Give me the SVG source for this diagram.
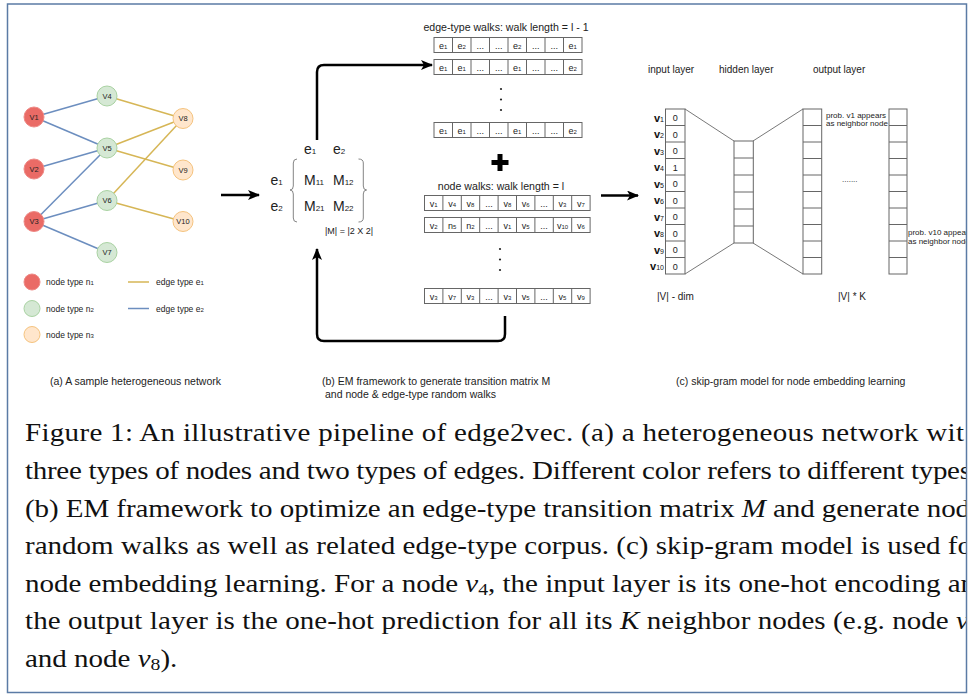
<svg xmlns="http://www.w3.org/2000/svg" width="970" height="696" viewBox="0 0 970 696">
<style>
text{font-family:"Liberation Sans",Arial,sans-serif;fill:#222}
.nl{font-size:7.5px;text-anchor:middle}
.lg{font-size:8.5px}
.cell{fill:#fff;stroke:#666;stroke-width:1}
.div{stroke:#666;stroke-width:1}
.ct{font-size:9px;text-anchor:middle}
.ttl{font-size:10px}
.wt{font-size:10.6px;text-anchor:middle}
.cap{font-size:10.5px}
.fig{font-family:"Liberation Serif","Times New Roman",serif;font-size:25px;fill:#111}
.mx{font-size:14px}
.e1{stroke:#d6b656;stroke-width:1.5;fill:none}
.e2{stroke:#6c8ebf;stroke-width:1.5;fill:none}
.n1{fill:#ea6b66;stroke:#ee8a86;stroke-width:1}
.n2{fill:#d5e8d4;stroke:#a9d2a2;stroke-width:1}
.n3{fill:#ffe6cc;stroke:#f5c37e;stroke-width:1}
.bar{stroke:#000;stroke-width:2.5;fill:none}
.thin{stroke:#555;stroke-width:0.8;fill:none}
.vl{font-size:11px;font-weight:bold;text-anchor:end;fill:#111}
</style>
<defs>
<marker id="ah" markerWidth="12" markerHeight="10" refX="11" refY="5" orient="auto" markerUnits="userSpaceOnUse">
<path d="M0,0 L12,5 L0,10 L3,5 z" fill="#000"/>
</marker>
<clipPath id="clip"><rect x="0" y="0" width="966.5" height="696"/></clipPath>
</defs>
<rect x="0" y="0" width="970" height="696" fill="#fff"/>
<g clip-path="url(#clip)">
<g id="connectors">
<line class="e2" x1="34" y1="117" x2="107" y2="96"/>
<line class="e2" x1="34" y1="117" x2="107" y2="148"/>
<line class="e2" x1="34" y1="169" x2="107" y2="148"/>
<line class="e2" x1="34" y1="221.5" x2="107" y2="148"/>
<line class="e2" x1="34" y1="221.5" x2="107" y2="200.5"/>
<line class="e2" x1="34" y1="221.5" x2="107" y2="252.5"/>
<line class="e1" x1="107" y1="96" x2="183" y2="118.5"/>
<line class="e1" x1="107" y1="148" x2="183" y2="118.5"/>
<line class="e1" x1="107" y1="148" x2="183" y2="170"/>
<line class="e1" x1="107" y1="200.5" x2="183" y2="118.5"/>
<line class="e1" x1="107" y1="200.5" x2="183" y2="221.5"/>
<line class="bar" x1="221" y1="195" x2="259" y2="195" marker-end="url(#ah)"/>
<path class="bar" d="M317 140 L317 72 Q317 65 324 65 L432 65" marker-end="url(#ah)"/>
<path class="bar" d="M505 316 L505 334 Q505 341 498 341 L324 341 Q317 341 317 334 L317 249" marker-end="url(#ah)"/>
<line class="bar" x1="601" y1="195.5" x2="638" y2="195.5" marker-end="url(#ah)"/>
<line class="thin" x1="685" y1="109" x2="734" y2="141"/>
<line class="thin" x1="685" y1="274" x2="734" y2="243"/>
<line class="thin" x1="753" y1="141" x2="803" y2="109"/>
<line class="thin" x1="753" y1="243" x2="803" y2="274"/>
</g>
<g id="v1"><circle class="n1" cx="34" cy="117" r="10"/><text class="nl" x="34" y="119.7">V1</text></g>
<g id="v2"><circle class="n1" cx="34" cy="169" r="10"/><text class="nl" x="34" y="171.7">V2</text></g>
<g id="v3"><circle class="n1" cx="34" cy="221.5" r="10"/><text class="nl" x="34" y="224.2">V3</text></g>
<g id="v4"><circle class="n2" cx="107" cy="96" r="10"/><text class="nl" x="107" y="98.7">V4</text></g>
<g id="v5"><circle class="n2" cx="107" cy="148" r="10"/><text class="nl" x="107" y="150.7">V5</text></g>
<g id="v6"><circle class="n2" cx="107" cy="200.5" r="10"/><text class="nl" x="107" y="203.2">V6</text></g>
<g id="v7"><circle class="n2" cx="107" cy="252.5" r="10"/><text class="nl" x="107" y="255.2">V7</text></g>
<g id="v8"><circle class="n3" cx="183" cy="118.5" r="10"/><text class="nl" x="183" y="121.2">V8</text></g>
<g id="v9"><circle class="n3" cx="183" cy="170" r="10"/><text class="nl" x="183" y="172.7">V9</text></g>
<g id="v10"><circle class="n3" cx="183" cy="221.5" r="10"/><text class="nl" x="183" y="224.2">V10</text></g>
<g id="legend">
<circle class="n1" cx="32" cy="282" r="8"/><text class="lg" x="46" y="285">node type n<tspan font-size="6">1</tspan></text>
<circle class="n2" cx="32" cy="308.5" r="8"/><text class="lg" x="46" y="311.5">node type n<tspan font-size="6">2</tspan></text>
<circle class="n3" cx="32" cy="334.5" r="8"/><text class="lg" x="46" y="337.5">node type n<tspan font-size="6">3</tspan></text>
<line class="e1" x1="128" y1="282" x2="149" y2="282"/><text class="lg" x="156" y="285">edge type e<tspan font-size="6">1</tspan></text>
<line class="e2" x1="128" y1="308.5" x2="149" y2="308.5"/><text class="lg" x="156" y="311.5">edge type e<tspan font-size="6">2</tspan></text>
</g>
<g id="matrix">
<text class="mx" x="304" y="154">e<tspan font-size="8">1</tspan></text>
<text class="mx" x="333" y="154">e<tspan font-size="8">2</tspan></text>
<text class="mx" x="270.5" y="185">e<tspan font-size="8">1</tspan></text>
<text class="mx" x="270.5" y="210.5">e<tspan font-size="8">2</tspan></text>
<text class="mx" x="304" y="185">M<tspan font-size="8">11</tspan></text>
<text class="mx" x="333" y="185">M<tspan font-size="8">12</tspan></text>
<text class="mx" x="304" y="210.5">M<tspan font-size="8">21</tspan></text>
<text class="mx" x="333" y="210.5">M<tspan font-size="8">22</tspan></text>
<path d="M297 159 Q293.3 159 293.3 163 L293.3 186 Q293.3 190 290 190 Q293.3 190 293.3 194 L293.3 218 Q293.3 222 297 222" fill="none" stroke="#777" stroke-width="0.9"/>
<path d="M358.5 159 Q363.3 159 363.3 163 L363.3 186 Q363.3 190 366.6 190 Q363.3 190 363.3 194 L363.3 218 Q363.3 222 358.5 222" fill="none" stroke="#777" stroke-width="0.9"/>
<text x="325" y="234" font-size="9">|M| = |2 X 2|</text>
</g>
<g id="edge-walks">
<text class="wt" x="506" y="31">edge-type walks: walk length = l - 1</text>
<rect class="cell" x="434" y="37.5" width="148" height="15"/>
<path class="div" d="M452.5 37.5v15M471 37.5v15M489.5 37.5v15M508 37.5v15M526.5 37.5v15M545 37.5v15M563.5 37.5v15"/>
<text class="ct" y="48.5"><tspan x="443.25">e<tspan font-size="6">1</tspan></tspan><tspan x="461.75">e<tspan font-size="6">2</tspan></tspan><tspan x="480.25">...</tspan><tspan x="498.75">...</tspan><tspan x="517.25">e<tspan font-size="6">2</tspan></tspan><tspan x="535.75">...</tspan><tspan x="554.25">...</tspan><tspan x="572.75">e<tspan font-size="6">1</tspan></tspan></text>
<rect class="cell" x="434" y="59.5" width="148" height="15"/>
<path class="div" d="M452.5 59.5v15M471 59.5v15M489.5 59.5v15M508 59.5v15M526.5 59.5v15M545 59.5v15M563.5 59.5v15"/>
<text class="ct" y="70.5"><tspan x="443.25">e<tspan font-size="6">1</tspan></tspan><tspan x="461.75">e<tspan font-size="6">1</tspan></tspan><tspan x="480.25">...</tspan><tspan x="498.75">...</tspan><tspan x="517.25">e<tspan font-size="6">1</tspan></tspan><tspan x="535.75">...</tspan><tspan x="554.25">...</tspan><tspan x="572.75">e<tspan font-size="6">2</tspan></tspan></text>
<circle cx="501" cy="89" r="1.1" fill="#222"/><circle cx="501" cy="99.5" r="1.1" fill="#222"/><circle cx="501" cy="110" r="1.1" fill="#222"/>
<rect class="cell" x="434" y="122.5" width="148" height="15"/>
<path class="div" d="M452.5 122.5v15M471 122.5v15M489.5 122.5v15M508 122.5v15M526.5 122.5v15M545 122.5v15M563.5 122.5v15"/>
<text class="ct" y="133.5"><tspan x="443.25">e<tspan font-size="6">1</tspan></tspan><tspan x="461.75">e<tspan font-size="6">1</tspan></tspan><tspan x="480.25">...</tspan><tspan x="498.75">...</tspan><tspan x="517.25">e<tspan font-size="6">1</tspan></tspan><tspan x="535.75">...</tspan><tspan x="554.25">...</tspan><tspan x="572.75">e<tspan font-size="6">2</tspan></tspan></text>
</g>
<g id="plus"><rect x="491.5" y="160" width="17" height="5"/><rect x="497.5" y="154" width="5" height="17"/></g>
<g id="node-walks">
<text class="wt" x="501" y="189.5">node walks: walk length = l</text>
<rect class="cell" x="424.5" y="195.5" width="165.6" height="15"/>
<path class="div" d="M442.9 195.5v15M461.3 195.5v15M479.7 195.5v15M498.1 195.5v15M516.5 195.5v15M534.9 195.5v15M553.3 195.5v15M571.7 195.5v15"/>
<text class="ct" y="206.5"><tspan x="433.7">v<tspan font-size="6">1</tspan></tspan><tspan x="452.1">v<tspan font-size="6">4</tspan></tspan><tspan x="470.5">v<tspan font-size="6">8</tspan></tspan><tspan x="488.9">...</tspan><tspan x="507.3">v<tspan font-size="6">8</tspan></tspan><tspan x="525.7">v<tspan font-size="6">6</tspan></tspan><tspan x="544.1">...</tspan><tspan x="562.5">v<tspan font-size="6">3</tspan></tspan><tspan x="580.9">v<tspan font-size="6">7</tspan></tspan></text>
<rect class="cell" x="424.5" y="217.5" width="165.6" height="15"/>
<path class="div" d="M442.9 217.5v15M461.3 217.5v15M479.7 217.5v15M498.1 217.5v15M516.5 217.5v15M534.9 217.5v15M553.3 217.5v15M571.7 217.5v15"/>
<text class="ct" y="228.5"><tspan x="433.7">v<tspan font-size="6">2</tspan></tspan><tspan x="452.1">n<tspan font-size="6">5</tspan></tspan><tspan x="470.5">n<tspan font-size="6">2</tspan></tspan><tspan x="488.9">...</tspan><tspan x="507.3">v<tspan font-size="6">1</tspan></tspan><tspan x="525.7">v<tspan font-size="6">5</tspan></tspan><tspan x="544.1">...</tspan><tspan x="562.5">v<tspan font-size="6">10</tspan></tspan><tspan x="580.9">v<tspan font-size="6">6</tspan></tspan></text>
<circle cx="500" cy="249" r="1.1" fill="#222"/><circle cx="500" cy="259.5" r="1.1" fill="#222"/><circle cx="500" cy="270" r="1.1" fill="#222"/>
<rect class="cell" x="424.5" y="288.5" width="165.6" height="15"/>
<path class="div" d="M442.9 288.5v15M461.3 288.5v15M479.7 288.5v15M498.1 288.5v15M516.5 288.5v15M534.9 288.5v15M553.3 288.5v15M571.7 288.5v15"/>
<text class="ct" y="299.5"><tspan x="433.7">v<tspan font-size="6">3</tspan></tspan><tspan x="452.1">v<tspan font-size="6">7</tspan></tspan><tspan x="470.5">v<tspan font-size="6">3</tspan></tspan><tspan x="488.9">...</tspan><tspan x="507.3">v<tspan font-size="6">3</tspan></tspan><tspan x="525.7">v<tspan font-size="6">5</tspan></tspan><tspan x="544.1">...</tspan><tspan x="562.5">v<tspan font-size="6">5</tspan></tspan><tspan x="580.9">v<tspan font-size="6">9</tspan></tspan></text>
</g>
<g id="input-layer">
<text class="ttl" x="648" y="73">input layer</text>
<rect class="cell" x="665.5" y="109" width="19.5" height="165"/>
<path class="div" d="M665.5 125.5h19.5M665.5 142h19.5M665.5 158.5h19.5M665.5 175h19.5M665.5 191.5h19.5M665.5 208h19.5M665.5 224.5h19.5M665.5 241h19.5M665.5 257.5h19.5"/>
<text class="ct" x="675.3"><tspan x="675.3" y="121">0</tspan><tspan x="675.3" y="137.5">0</tspan><tspan x="675.3" y="154">0</tspan><tspan x="675.3" y="170.5">1</tspan><tspan x="675.3" y="187">0</tspan><tspan x="675.3" y="203.5">0</tspan><tspan x="675.3" y="220">0</tspan><tspan x="675.3" y="236.5">0</tspan><tspan x="675.3" y="253">0</tspan><tspan x="675.3" y="269.5">0</tspan></text>
<text class="vl" x="664" y="121.5">v<tspan font-size="7" font-weight="normal">1</tspan></text>
<text class="vl" x="664" y="138">v<tspan font-size="7" font-weight="normal">2</tspan></text>
<text class="vl" x="664" y="154.5">v<tspan font-size="7" font-weight="normal">3</tspan></text>
<text class="vl" x="664" y="171">v<tspan font-size="7" font-weight="normal">4</tspan></text>
<text class="vl" x="664" y="187.5">v<tspan font-size="7" font-weight="normal">5</tspan></text>
<text class="vl" x="664" y="204">v<tspan font-size="7" font-weight="normal">6</tspan></text>
<text class="vl" x="664" y="220.5">v<tspan font-size="7" font-weight="normal">7</tspan></text>
<text class="vl" x="664" y="237">v<tspan font-size="7" font-weight="normal">8</tspan></text>
<text class="vl" x="664" y="253.5">v<tspan font-size="7" font-weight="normal">9</tspan></text>
<text class="vl" x="664" y="270">v<tspan font-size="7" font-weight="normal">10</tspan></text>
<text class="ttl" x="657" y="300">|V|  - dim</text>
</g>
<g id="hidden-layer">
<text class="ttl" x="719" y="73">hidden layer</text>
<rect class="cell" x="734" y="141" width="19.3" height="102"/>
<path class="div" d="M734 158h19.3M734 175h19.3M734 192h19.3M734 209h19.3M734 226h19.3"/>
</g>
<g id="output-layer">
<text class="ttl" x="813" y="73">output layer</text>
<rect class="cell" x="803" y="109" width="18.7" height="165"/>
<path class="div" d="M803 125.5h18.7M803 142h18.7M803 158.5h18.7M803 175h18.7M803 191.5h18.7M803 208h18.7M803 224.5h18.7M803 241h18.7M803 257.5h18.7"/>
<rect class="cell" x="889" y="109" width="18" height="165"/>
<path class="div" d="M889 125.5h18M889 142h18M889 158.5h18M889 175h18M889 191.5h18M889 208h18M889 224.5h18M889 241h18M889 257.5h18"/>
<text x="826" y="117.5" font-size="8">prob. v1 appears</text>
<text x="826" y="126" font-size="8">as neighbor node</text>
<text x="842" y="182" font-size="8">.......</text>
<text x="908" y="234.5" font-size="8">prob. v10 appears</text>
<text x="908" y="243.5" font-size="8">as neighbor node</text>
<text class="ttl" x="838" y="300">|V| * K</text>
</g>
<g id="subcaptions">
<text class="cap" x="50" y="384.5">(a) A sample heterogeneous network</text>
<text class="cap" x="322" y="384.5">(b) EM framework to generate transition matrix M</text>
<text class="cap" x="325" y="397.5">and node &amp; edge-type random walks</text>
<text class="cap" x="676" y="384.5">(c) skip-gram model for node embedding learning</text>
</g>
<g id="caption">
<text class="fig" transform="translate(25 441) scale(1.16 1)" x="0" y="0" textLength="809.5" lengthAdjust="spacing">Figure 1:  An illustrative pipeline of edge2vec. (a) a heterogeneous network wit</text>
<text class="fig" transform="translate(25 479) scale(1.16 1)" x="0" y="0" textLength="815.5" lengthAdjust="spacing">three types of nodes and two types of edges. Different color refers to different types</text>
<text class="fig" transform="translate(25 516.5) scale(1.16 1)" x="0" y="0" textLength="814.7" lengthAdjust="spacing">(b) EM framework to optimize an edge-type transition matrix <tspan font-style="italic">M</tspan> and generate nod</text>
<text class="fig" transform="translate(25 554) scale(1.16 1)" x="0" y="0" textLength="816.4" lengthAdjust="spacing">random walks as well as related edge-type corpus. (c) skip-gram model is used fo</text>
<text class="fig" transform="translate(25 591.5) scale(1.16 1)" x="0" y="0" textLength="819" lengthAdjust="spacing">node embedding learning. For a node <tspan font-style="italic">v</tspan><tspan font-size="17" dy="3.5">4</tspan><tspan dy="-3.5">, the input layer is its one-hot encoding an</tspan></text>
<text class="fig" transform="translate(25 629) scale(1.16 1)" x="0" y="0" textLength="813.8" lengthAdjust="spacing">the output layer is the one-hot prediction for all its <tspan font-style="italic">K</tspan> neighbor nodes (e.g. node <tspan font-style="italic">v</tspan></text>
<text class="fig" transform="translate(25 666.5) scale(1.16 1)" x="0" y="0">and node <tspan font-style="italic">v</tspan><tspan font-size="17" dy="3.5">8</tspan><tspan dy="-3.5">).</tspan></text>
</g>
</g>
<rect x="7.5" y="4" width="959" height="688.5" fill="none" stroke="#5b7ba5" stroke-width="1.5"/>
</svg>
